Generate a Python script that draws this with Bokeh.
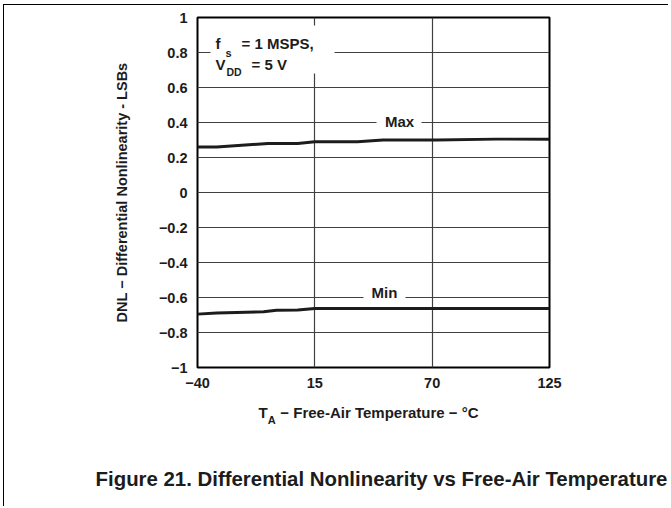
from bokeh.plotting import figure
from bokeh.models import FixedTicker, Label, BoxAnnotation, Range1d, LinearAxis
from bokeh.embed import file_html
from bokeh.resources import INLINE

# ---- data ----
temp_max = [-40, -31, -7, 7, 15, 35, 47, 72, 100, 125]
dnl_max = [0.26, 0.26, 0.28, 0.28, 0.29, 0.29, 0.30, 0.30, 0.305, 0.305]
temp_min = [-40, -31, -9, -3, 7, 15, 40, 70, 100, 125]
dnl_min = [-0.695, -0.688, -0.682, -0.673, -0.671, -0.663, -0.663, -0.663, -0.663, -0.663]

x_ticks = [-40, 15, 70, 125]
x_tick_labels = ["\u221240", "15", "70", "125"]
y_ticks = [-1, -0.8, -0.6, -0.4, -0.2, 0, 0.2, 0.4, 0.6, 0.8, 1]
y_tick_labels = ["\u22121", "\u22120.8", "\u22120.6", "\u22120.4", "\u22120.2", "0",
                 "0.2", "0.4", "0.6", "0.8", "1"]
x_grid = [15, 70]
y_grid = [-0.8, -0.6, -0.4, -0.2, 0, 0.2, 0.4, 0.6, 0.8]

y_title = "DNL \u2212 Differential Nonlinearity - LSBs"
x_title_main = "T"
x_title_sub = "A"
x_title_rest = "\u2212 Free-Air Temperature \u2212 \u00b0C"
caption = "Figure 21. Differential Nonlinearity vs Free-Air Temperature"

FONT = "Liberation Sans"
INK = "#1c1c1c"

W, H = 668, 506
X0, X1, Y0, Y1 = -40, 125, -1, 1
FL, FT, FW, FH = 197, 17, 352, 350   # frame position in picture pixels


def dx(px):
    return round(X0 + (px - FL) * (X1 - X0) / FW, 2)


def dy(py):
    return Y1 - (py - FT) * (Y1 - Y0) / FH


p = figure(width=W, height=H, x_range=Range1d(X0, X1), y_range=Range1d(Y0, Y1),
           output_backend="svg", toolbar_location=None,
           min_border_left=FL, min_border_right=W - FL - FW,
           min_border_top=FT, min_border_bottom=H - FT - FH)

# thin page frame lines (top and left) behind a transparent border area
p.border_fill_alpha = 0
p.styles = {"background": "linear-gradient(#000, #000) 3px 4px / 1px 100% no-repeat, "
                          "linear-gradient(#000, #000) 3px 4px / 100% 1px no-repeat, #fff"}

p.outline_line_color = "black"
p.outline_line_width = 2
p.background_fill_color = "white"


def style_axis(ax, ticks, labels, size, standoff):
    ax.ticker = FixedTicker(ticks=ticks)
    ax.major_label_overrides = {t: l for t, l in zip(ticks, labels)}
    ax.axis_line_color = None
    ax.major_tick_line_color = None
    ax.minor_tick_line_color = None
    ax.major_tick_out = 0
    ax.major_tick_in = 0
    ax.major_label_text_font = FONT
    ax.major_label_text_font_style = "bold"
    ax.major_label_text_font_size = size
    ax.major_label_text_color = INK
    ax.major_label_standoff = standoff


style_axis(p.xaxis[0], x_ticks, x_tick_labels, "14.5px", 10)
style_axis(p.yaxis[0], y_ticks, y_tick_labels, "14.5px", 10)

yax = p.yaxis[0]
yax.axis_label = y_title
yax.axis_label_text_font = FONT
yax.axis_label_text_font_style = "bold"
yax.axis_label_text_font_size = "14.5px"
yax.axis_label_text_color = INK
yax.axis_label_standoff = 26

# x-axis title pieces (main text and subscript) and figure caption as extra axes below
ax_title = LinearAxis()
style_axis(ax_title, [dx(262.6), dx(379)], [x_title_main, x_title_rest], "15px", 13)
p.add_layout(ax_title, "below")

ax_sub = LinearAxis()
style_axis(ax_sub, [dx(271.2)], [x_title_sub], "11px", -10)
p.add_layout(ax_sub, "below")

ax_cap = LinearAxis()
style_axis(ax_cap, [dx(381)], [caption], "20.4px", 39)
p.add_layout(ax_cap, "below")

p.xgrid.ticker = FixedTicker(ticks=x_grid)
p.ygrid.ticker = FixedTicker(ticks=y_grid)
p.grid.grid_line_color = "#404040"
p.grid.grid_line_width = 1.2

# white gaps over the grid behind in-plot texts
for l, r, t, b in ((210, 334, 25, 73), (376, 421, 116, 130), (363, 405, 290, 304)):
    p.add_layout(BoxAnnotation(left=dx(l), right=dx(r), top=dy(t), bottom=dy(b),
                               fill_color="white", fill_alpha=1.0, line_color=None,
                               level="underlay"))

p.line(temp_max, dnl_max, line_color=INK, line_width=3, line_join="round")
p.line(temp_min, dnl_min, line_color=INK, line_width=3, line_join="round")


def txt(x, y, s, size="15px", align="left"):
    p.add_layout(Label(x=dx(x), y=dy(y), text=s, text_font=FONT, text_font_style="bold",
                       text_font_size=size, text_color=INK, text_align=align,
                       text_baseline="middle"))


# in-plot annotations
txt(215, 43, "f")
txt(225, 52, "s", size="11px")
txt(241, 43, "= 1 MSPS,")
txt(215, 64, "V")
txt(226, 71, "DD", size="10.5px")
txt(251, 64, "= 5 V")
txt(399, 121, "Max", align="center")
txt(384, 292, "Min", align="center")

open("out.html", "w").write(file_html(p, INLINE))
